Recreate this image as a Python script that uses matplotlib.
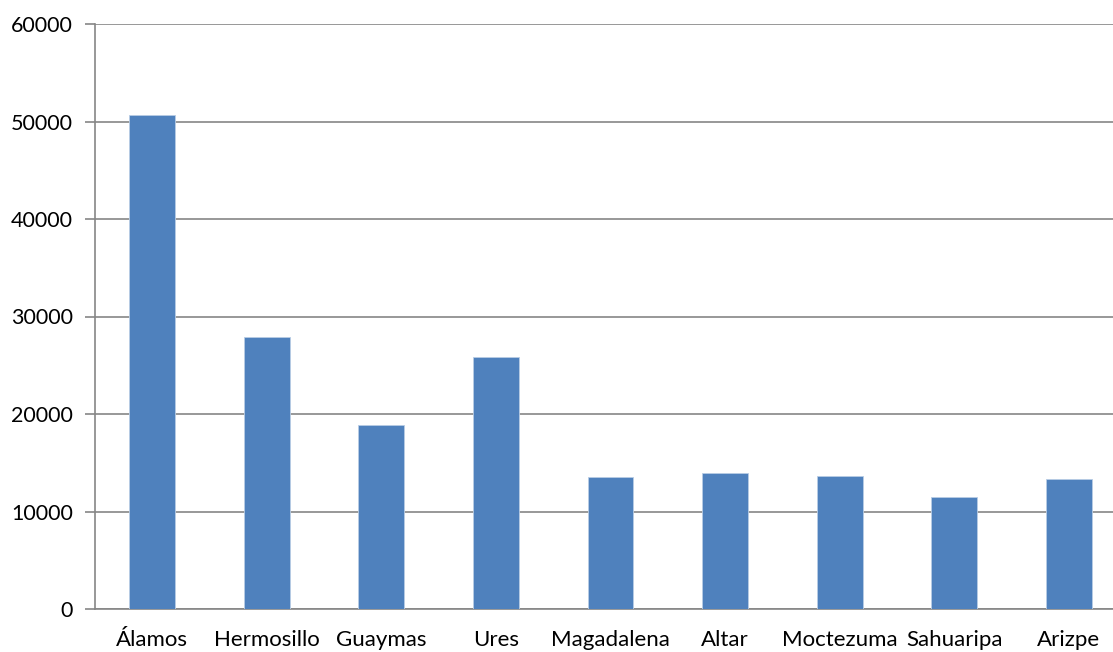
import matplotlib.pyplot as plt
import numpy as np

plt.rcParams['font.family'] = ['Lato', 'DejaVu Sans']

categories = ['Álamos', 'Hermosillo', 'Guaymas', 'Ures', 'Magadalena',
              'Altar', 'Moctezuma', 'Sahuaripa', 'Arizpe']
values = [50700, 27900, 18900, 25800, 13500, 14000, 13600, 11450, 13300]
y_ticks = [0, 10000, 20000, 30000, 40000, 50000, 60000]

fig = plt.figure(figsize=(11.13, 6.52), dpi=100)
# plot area runs slightly past the right edge of the canvas
ax = fig.add_axes([95 / 1113, 43 / 652, 1031 / 1113, 585 / 652])

x = np.arange(len(categories))
ax.bar(x, values, width=0.40, color='#4F81BD', edgecolor='#B9CDE5',
       linewidth=0.6, zorder=3)

ax.set_xlim(-0.5, len(categories) - 0.5)
ax.set_ylim(0, 60000)
ax.set_yticks(y_ticks)
ax.set_yticklabels([str(t) for t in y_ticks], fontsize=15.5)
ax.set_xticks(x)
ax.set_xticklabels(categories, fontsize=16)

ax.grid(axis='y', color='#868686', linewidth=1.2, zorder=0)
ax.tick_params(axis='y', length=7, width=1.2, color='#868686', pad=9)
ax.tick_params(axis='x', length=0, pad=15)

for side in ['top', 'right']:
    ax.spines[side].set_visible(False)
for side in ['left', 'bottom']:
    ax.spines[side].set_color('#868686')
    ax.spines[side].set_linewidth(1.2)

fig.savefig('out.png', dpi=100)
